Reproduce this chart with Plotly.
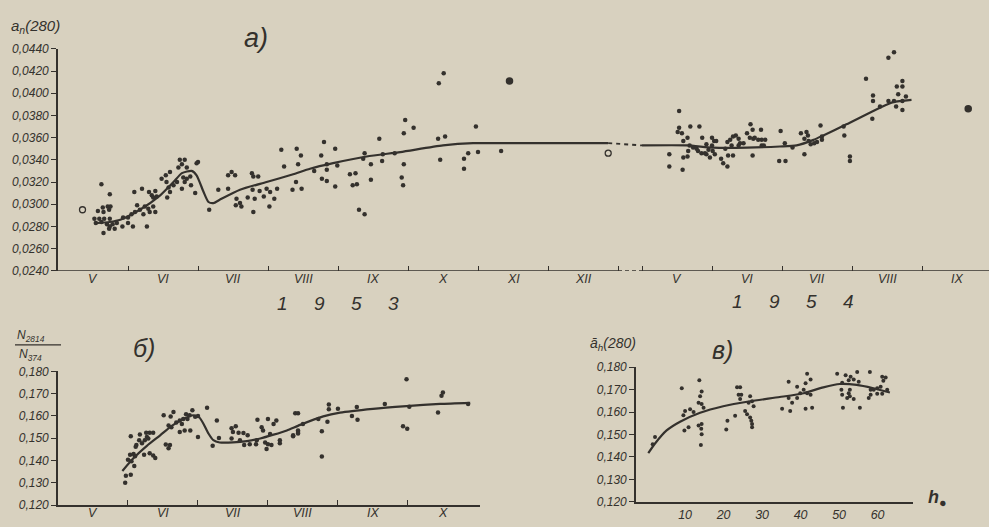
import plotly.graph_objects as go

BG = "#d8d1bf"
INK = "#34312d"
FONT = "Liberation Sans, DejaVu Sans, sans-serif"

# ---------------- Panel a): a_n(280), 1953 and 1954 ----------------
# x = months counted from 1 May of the year (V=0..1, VI=1..2, ...)
MONTHS_1953 = ["V", "VI", "VII", "VIII", "IX", "X", "XI", "XII"]
MONTHS_1954 = ["V", "VI", "VII", "VIII", "IX"]
GAP_START_1954 = 8.343  # axis position where the 1954 part starts (after the break)

a53_x = [0.62, 0.74, 0.64, 0.71, 0.75, 0.57, 0.65, 0.73, 0.52, 0.59, 0.66, 0.74, 0.54, 0.62, 0.70,
         0.74, 0.78, 0.81, 0.73, 0.65, 0.84, 0.92, 0.93, 1.00, 1.07, 1.00, 1.05, 1.10, 1.13, 1.17,
         1.09, 1.20, 1.27, 1.22, 1.24, 1.29, 1.31, 1.36, 1.39, 1.30, 1.34, 1.36, 1.39, 1.41, 1.48,
         1.54, 1.60, 1.55, 1.58, 1.60, 1.56, 1.65, 1.70, 1.74, 1.81, 1.77, 1.72, 1.84, 1.79, 1.84,
         1.89, 1.81, 1.77, 1.90, 1.96, 1.98, 2.00, 2.16, 2.29, 2.43, 2.48, 2.53, 2.43, 2.55, 2.60,
         2.62, 2.54, 2.71, 2.77, 2.79, 2.86, 2.78, 2.81, 2.79, 2.88, 2.94, 2.98, 3.03, 3.02, 3.09,
         3.13, 5.51, 5.44, 4.96, 5.08, 4.94, 4.59, 5.43, 5.53, 5.97, 3.19, 3.41, 3.47, 3.80, 3.96,
         3.76, 3.23, 3.43, 3.66, 3.84, 3.84, 3.99, 4.38, 4.36, 4.47, 4.64, 4.63, 4.81, 4.94, 5.46,
         5.86, 5.80, 5.80, 6.00, 3.35, 3.40, 3.48, 3.77, 3.84, 3.96, 4.17, 4.25, 4.21, 4.27, 4.47,
         4.91, 4.93, 4.30, 4.38, 6.33]
a53_y = [0.0318, 0.0309, 0.0297, 0.0298, 0.0298, 0.0294, 0.0293, 0.0295, 0.0287, 0.0287, 0.0287,
         0.0287, 0.0283, 0.0284, 0.0282, 0.0280, 0.0282, 0.0278, 0.0278, 0.0274, 0.0283, 0.0280,
         0.0288, 0.0283, 0.0280, 0.0288, 0.0291, 0.0293, 0.0299, 0.0295, 0.0311, 0.0314, 0.0280,
         0.0291, 0.0298, 0.0296, 0.0293, 0.0298, 0.0293, 0.0311, 0.0308, 0.0306, 0.0312, 0.0307,
         0.0323, 0.0326, 0.0329, 0.0320, 0.0315, 0.0311, 0.0306, 0.0317, 0.0320, 0.0340, 0.0340,
         0.0336, 0.0333, 0.0333, 0.0324, 0.0323, 0.0325, 0.0320, 0.0314, 0.0317, 0.0310, 0.0337,
         0.0338, 0.0295, 0.0313, 0.0326, 0.0329, 0.0326, 0.0314, 0.0305, 0.0301, 0.0298, 0.0299,
         0.0306, 0.0328, 0.0325, 0.0325, 0.0313, 0.0305, 0.0293, 0.0312, 0.0307, 0.0314, 0.0311,
         0.0298, 0.0305, 0.0314, 0.0418, 0.0409, 0.0376, 0.0369, 0.0364, 0.0359, 0.0359, 0.0361,
         0.0370, 0.0349, 0.0350, 0.0344, 0.0356, 0.0350, 0.0344, 0.0334, 0.0336, 0.0330, 0.0336,
         0.0331, 0.0335, 0.0346, 0.0341, 0.0336, 0.0345, 0.0339, 0.0346, 0.0336, 0.0340, 0.0346,
         0.0341, 0.0332, 0.0347, 0.0313, 0.0320, 0.0314, 0.0323, 0.0321, 0.0316, 0.0327, 0.0328,
         0.0317, 0.0318, 0.0322, 0.0324, 0.0317, 0.0295, 0.0291, 0.0348]
a53_big_x = [6.45]
a53_big_y = [0.0411]
a53_open_x = [0.35, 7.86]
a53_open_y = [0.0295, 0.0346]
a53_curve_x = [0.53, 0.74, 0.89, 1.17, 1.46, 1.65, 1.77, 1.91, 1.98, 2.08, 2.15, 2.22, 2.31, 2.60,
               2.98, 3.36, 3.60, 3.93, 4.41, 4.89, 5.50, 5.93, 6.31, 6.98, 7.86]
a53_curve_y = [0.0283, 0.0284, 0.0286, 0.0295, 0.0308, 0.0320, 0.0328, 0.0330, 0.0326, 0.0311,
               0.0302, 0.0301, 0.0304, 0.0313, 0.0320, 0.0327, 0.0332, 0.0337, 0.0343, 0.0347,
               0.0353, 0.0355, 0.0355, 0.0355, 0.0355]

a54_x = [0.53, 0.53, 0.51, 0.57, 0.69, 0.82, 0.59, 0.65, 0.86, 0.68, 0.73, 0.78, 0.80, 0.85, 0.66,
         0.90, 0.95, 0.92, 1.00, 1.00, 1.03, 1.06, 1.01, 1.04, 0.97, 0.92, 0.39, 0.39, 0.59, 0.65,
         0.58, 1.13, 1.16, 1.22, 1.19, 1.22, 1.26, 1.28, 1.23, 1.30, 1.30, 1.34, 1.38, 1.40, 1.45,
         1.38, 1.50, 1.55, 1.58, 1.54, 1.59, 1.61, 1.70, 1.66, 1.71, 1.76, 1.71, 1.74, 1.58, 1.98,
         2.04, 1.96, 2.05, 2.15, 2.27, 2.32, 2.35, 2.37, 2.38, 2.41, 2.46, 2.50, 2.32, 2.55, 2.57,
         2.57, 2.88, 2.89, 2.97, 2.97, 3.63, 3.60, 3.52, 3.20, 3.72, 3.64, 3.72, 3.30, 3.30, 3.66,
         3.77, 3.52, 3.60, 3.72, 3.40, 3.63, 3.72, 3.29]
a54_y = [0.0384, 0.0369, 0.0365, 0.0364, 0.0370, 0.0370, 0.0357, 0.0360, 0.0360, 0.0353, 0.0351,
         0.0350, 0.0348, 0.0346, 0.0348, 0.0346, 0.0349, 0.0354, 0.0353, 0.0360, 0.0357, 0.0357,
         0.0348, 0.0345, 0.0342, 0.0345, 0.0345, 0.0334, 0.0342, 0.0343, 0.0331, 0.0341, 0.0337,
         0.0334, 0.0350, 0.0356, 0.0358, 0.0353, 0.0344, 0.0344, 0.0361, 0.0362, 0.0359, 0.0355,
         0.0355, 0.0353, 0.0364, 0.0372, 0.0367, 0.0360, 0.0359, 0.0360, 0.0367, 0.0358, 0.0358,
         0.0358, 0.0353, 0.0353, 0.0344, 0.0366, 0.0355, 0.0339, 0.0339, 0.0351, 0.0364, 0.0359,
         0.0365, 0.0362, 0.0357, 0.0354, 0.0355, 0.0356, 0.0345, 0.0371, 0.0361, 0.0358, 0.0370,
         0.0362, 0.0343, 0.0339, 0.0448, 0.0437, 0.0432, 0.0413, 0.0411, 0.0406, 0.0406, 0.0398,
         0.0393, 0.0399, 0.0397, 0.0393, 0.0393, 0.0393, 0.0388, 0.0388, 0.0385, 0.0377]
a54_big_x = [4.66]
a54_big_y = [0.0386]
a54_curve_x = [0.0, 0.64, 1.02, 1.50, 1.97, 2.21, 2.45, 2.59, 2.92, 3.40, 3.59, 3.85]
a54_curve_y = [0.0353, 0.0353, 0.0351, 0.0351, 0.0352, 0.0353, 0.0358, 0.0362, 0.0372, 0.0387,
               0.0392, 0.0394]

# ---------------- Panel b): N2814/N374, 1953 ----------------
MONTHS_B = ["V", "VI", "VII", "VIII", "IX", "X"]
b_x = [0.96, 0.97, 1.04, 1.00, 1.03, 1.08, 1.10, 1.05, 1.09, 1.04, 1.12, 1.17, 1.16, 1.20, 1.24,
       1.27, 1.31, 1.36, 1.26, 1.29, 1.23, 1.31, 1.36, 1.39, 1.11, 1.51, 1.61, 1.65, 1.58, 1.62,
       1.69, 1.54, 1.58, 1.60, 1.74, 1.77, 1.79, 1.83, 1.88, 1.92, 1.96, 2.00, 1.85, 1.74, 1.81,
       1.89, 2.00, 2.13, 2.27, 2.30, 2.21, 2.48, 2.54, 2.50, 2.58, 2.65, 2.71, 2.48, 2.60, 2.66,
       2.74, 2.84, 2.83, 2.91, 2.93, 2.85, 3.00, 3.08, 3.12, 3.03, 2.96, 3.00, 3.05, 2.98, 3.17,
       3.17, 3.36, 3.43, 3.83, 4.93, 5.00, 4.98, 5.48, 5.50, 5.43, 3.39, 3.43, 3.87, 3.87, 4.00,
       4.27, 4.67, 5.02, 4.20, 4.28, 3.85, 3.77, 3.43, 3.43, 3.36, 3.50, 3.72, 3.77, 4.93, 4.99,
       5.86]
b_y = [0.1300, 0.1332, 0.1336, 0.1404, 0.1426, 0.1429, 0.1419, 0.1397, 0.1375, 0.1509, 0.1470,
       0.1517, 0.1491, 0.1477, 0.1491, 0.1506, 0.1525, 0.1525, 0.1525, 0.1499, 0.1426, 0.1433,
       0.1423, 0.1411, 0.1462, 0.1603, 0.1597, 0.1618, 0.1557, 0.1549, 0.1571, 0.1472, 0.1455,
       0.1470, 0.1579, 0.1564, 0.1586, 0.1608, 0.1603, 0.1625, 0.1596, 0.1600, 0.1586, 0.1528,
       0.1535, 0.1535, 0.1506, 0.1637, 0.1579, 0.1501, 0.1466, 0.1545, 0.1554, 0.1528, 0.1525,
       0.1523, 0.1513, 0.1499, 0.1491, 0.1470, 0.1473, 0.1491, 0.1473, 0.1549, 0.1535, 0.1583,
       0.1586, 0.1564, 0.1579, 0.1519, 0.1481, 0.1473, 0.1470, 0.1452, 0.1491, 0.1477, 0.1513,
       0.1528, 0.1801, 0.1814, 0.1814, 0.1765, 0.1691, 0.1705, 0.1615, 0.1612, 0.1612, 0.1651,
       0.1630, 0.1632, 0.1640, 0.1654, 0.1641, 0.1600, 0.1583, 0.1574, 0.1531, 0.1535, 0.1521,
       0.1509, 0.1564, 0.1586, 0.1418, 0.1554, 0.1542, 0.1654]
b_curve_x = [0.92, 1.08, 1.27, 1.46, 1.62, 1.79, 1.93, 2.02, 2.08, 2.15, 2.22, 2.31, 2.50, 2.70,
             2.89, 3.08, 3.27, 3.46, 3.79, 4.03, 4.50, 4.98, 5.46, 5.89]
b_curve_y = [0.1353, 0.1411, 0.1466, 0.1513, 0.1554, 0.1586, 0.1603, 0.1593, 0.1564, 0.1521,
             0.1491, 0.1481, 0.1481, 0.1487, 0.1499, 0.1516, 0.1535, 0.1560, 0.1598, 0.1615,
             0.1632, 0.1644, 0.1654, 0.1659]

# ---------------- Panel c): mean a_h(280) vs solar altitude h ----------------
c_h = [2.19, 1.59, 9.14, 13.7, 14.3, 13.9, 13.5, 14.3, 14.8, 10.0, 11.3, 12.2, 9.56, 10.9, 9.82,
       13.5, 14.3, 14.2, 14.3, 14.1, 23.5, 24.3, 23.9, 24.6, 24.3, 26.9, 26.5, 27.4, 27.8, 25.6,
       26.1, 26.9, 27.2, 27.4, 27.4, 23.0, 21.0, 20.7, 36.9, 41.7, 42.6, 39.1, 41.3, 40.8, 39.9,
       41.7, 42.6, 39.1, 37.8, 36.9, 35.2, 37.3, 41.3, 43.0, 49.5, 51.7, 53.0, 54.7, 58.0, 52.5,
       53.8, 55.1, 50.8, 50.6, 52.8, 52.5, 52.8, 52.1, 53.8, 50.8, 51.0, 55.4, 58.2, 58.2, 57.7,
       59.0, 59.9, 60.8, 61.2, 62.1, 61.5, 62.5, 59.9, 61.2]
c_y = [0.1489, 0.1456, 0.1706, 0.1742, 0.1692, 0.1670, 0.1641, 0.1636, 0.1619, 0.1605, 0.1612,
       0.1600, 0.1586, 0.1532, 0.1518, 0.1540, 0.1547, 0.1525, 0.1501, 0.1453, 0.1710, 0.1710,
       0.1677, 0.1677, 0.1658, 0.1670, 0.1641, 0.1648, 0.1626, 0.1605, 0.1590, 0.1576, 0.1561,
       0.1547, 0.1532, 0.1583, 0.1561, 0.1522, 0.1735, 0.1771, 0.1745, 0.1713, 0.1728, 0.1699,
       0.1684, 0.1684, 0.1677, 0.1663, 0.1641, 0.1663, 0.1615, 0.1605, 0.1615, 0.1619, 0.1771,
       0.1764, 0.1757, 0.1778, 0.1778, 0.1742, 0.1745, 0.1735, 0.1731, 0.1699, 0.1699, 0.1684,
       0.1670, 0.1663, 0.1658, 0.1677, 0.1619, 0.1619, 0.1699, 0.1677, 0.1663, 0.1699, 0.1706,
       0.1713, 0.1757, 0.1754, 0.1739, 0.1699, 0.1682, 0.1682]
c_curve_h = [0.44, 2.2, 5.2, 8.7, 13.9, 19.9, 26.9, 34.6, 40.8, 45.9, 50.2, 54.6, 58.9, 63.2]
c_curve_y = [0.1417, 0.1460, 0.1518, 0.1557, 0.1597, 0.1626, 0.1648, 0.1667, 0.1684, 0.1710,
             0.1725, 0.1721, 0.1706, 0.1687]
C_TICKS = [10, 20, 30, 40, 50, 60]

A_YTICKS = [0.024 + 0.002 * i for i in range(11)]
BC_YTICKS = [0.12 + 0.01 * i for i in range(7)]

# ---------------- figure ----------------
W, H = 989, 527
fig = go.Figure()

dot = dict(color=INK, size=4.5, line=dict(width=0))
big = dict(color=INK, size=7.5, line=dict(width=0))
curve = dict(color=INK, width=2.2, shape="spline", smoothing=0.6)

x54 = [GAP_START_1954 + v for v in a54_x]
fig.add_trace(go.Scatter(x=a53_x, y=a53_y, mode="markers", marker=dot, cliponaxis=False, xaxis="x", yaxis="y"))
fig.add_trace(go.Scatter(x=x54, y=a54_y, mode="markers", marker=dot, cliponaxis=False, xaxis="x", yaxis="y"))
fig.add_trace(go.Scatter(x=a53_big_x + [GAP_START_1954 + v for v in a54_big_x], y=a53_big_y + a54_big_y,
                         mode="markers", marker=big, cliponaxis=False, xaxis="x", yaxis="y"))
fig.add_trace(go.Scatter(x=a53_open_x, y=a53_open_y, mode="markers",
                         marker=dict(symbol="circle-open", color=INK, size=6, line=dict(width=1.3)),
                         cliponaxis=False, xaxis="x", yaxis="y"))
fig.add_trace(go.Scatter(x=a53_curve_x, y=a53_curve_y, mode="lines", line=curve, xaxis="x", yaxis="y"))
fig.add_trace(go.Scatter(x=[GAP_START_1954 + v for v in a54_curve_x], y=a54_curve_y, mode="lines",
                         line=curve, xaxis="x", yaxis="y"))
fig.add_trace(go.Scatter(x=[a53_curve_x[-1], GAP_START_1954 + a54_curve_x[0]],
                         y=[a53_curve_y[-1], a54_curve_y[0]], mode="lines",
                         line=dict(color=INK, width=1.8, dash="4px,4px"), xaxis="x", yaxis="y"))

fig.add_trace(go.Scatter(x=b_x, y=b_y, mode="markers", marker=dot, cliponaxis=False, xaxis="x2", yaxis="y2"))
fig.add_trace(go.Scatter(x=b_curve_x, y=b_curve_y, mode="lines", line=curve, xaxis="x2", yaxis="y2"))

fig.add_trace(go.Scatter(x=c_h, y=c_y, mode="markers", marker=dict(color=INK, size=4, line=dict(width=0)),
                         cliponaxis=False, xaxis="x3", yaxis="y3"))
fig.add_trace(go.Scatter(x=c_curve_h, y=c_curve_y, mode="lines", line=curve, xaxis="x3", yaxis="y3"))

tickfont = dict(family=FONT, size=12, color=INK, style="italic")
monthfont = dict(family=FONT, size=12.5, color=INK, style="italic")

a_centers = [i + 0.5 for i in range(len(MONTHS_1953))] + [GAP_START_1954 + i + 0.5 for i in range(len(MONTHS_1954))]
a_bounds = [i + 1 for i in range(len(MONTHS_1953))] + [GAP_START_1954 + i for i in range(len(MONTHS_1954))]
b_centers = [i + 0.5 for i in range(len(MONTHS_B))]
b_bounds = [i + 1 for i in range(len(MONTHS_B) - 1)]


def px_x(p):
    return p / W


def px_y(p):
    return 1 - p / H


bound_x = dict(showgrid=False, zeroline=False, tickmode="array", ticks="inside", ticklen=5,
               tickwidth=1.4, tickcolor=INK, showticklabels=False)
common_y = dict(showgrid=False, zeroline=False, showline=True, linecolor=INK, linewidth=1.6,
                ticks="outside", ticklen=5, tickwidth=1.3, tickcolor=INK, tickfont=tickfont)

A_DOM = [px_x(58), 1.0]
B_DOM = [px_x(58), px_x(480)]
fig.update_layout(
    width=W, height=H, margin=dict(l=0, r=0, t=0, b=0),
    paper_bgcolor=BG, plot_bgcolor="rgba(0,0,0,0)", showlegend=False, separators=", ",
    xaxis=dict(domain=A_DOM, range=[0, 13.3], anchor="y", showline=False, tickvals=a_bounds, **bound_x),
    yaxis=dict(domain=[px_y(271), px_y(43)], range=[0.024, 0.044], anchor="x",
               tickmode="array", tickvals=A_YTICKS, tickformat=".4f", **common_y),
    xaxis2=dict(domain=B_DOM, range=[0, 6.03], anchor="y2", showline=True,
                linecolor=INK, linewidth=1.8, tickvals=b_bounds, **bound_x),
    yaxis2=dict(domain=[px_y(511.7), px_y(374.3)], range=[0.12, 0.18], anchor="x2",
                tickmode="array", tickvals=BC_YTICKS, tickformat=".3f", **common_y),
    xaxis3=dict(domain=[px_x(636), px_x(913)], range=[-2.75, 69.2], anchor="y3", showline=True,
                linecolor=INK, linewidth=1.6, tickmode="array", tickvals=C_TICKS,
                showgrid=False, zeroline=False, ticks="", tickfont=monthfont),
    yaxis3=dict(domain=[px_y(508.3), px_y(370)], range=[0.12, 0.18], anchor="x3",
                tickmode="array", tickvals=BC_YTICKS, tickformat=".3f", **common_y),
)

# month names centred between the month-boundary ticks
for xc, name in zip(a_centers, MONTHS_1953 + MONTHS_1954):
    fig.add_annotation(text=name, x=xc, y=px_y(279), xref="x", yref="paper", showarrow=False,
                       yanchor="middle", font=monthfont)
for xc, name in zip(b_centers, MONTHS_B):
    fig.add_annotation(text=name, x=xc, y=px_y(520), xref="x2", yref="paper", showarrow=False,
                       yanchor="middle", font=monthfont)

# x-axis line of panel a) with the dashed break between 1953 and 1954
fig.add_shape(type="line", xref="x", yref="y", x0=0, x1=len(MONTHS_1953), y0=0.024, y1=0.024,
              line=dict(color=INK, width=1.8))
fig.add_shape(type="line", xref="x", yref="y", x0=len(MONTHS_1953), x1=GAP_START_1954, y0=0.024, y1=0.024,
              line=dict(color=INK, width=1.8, dash="4px,3px"))
fig.add_shape(type="line", xref="x", yref="y", x0=GAP_START_1954, x1=13.3, y0=0.024, y1=0.024,
              line=dict(color=INK, width=1.8))


def note(text, x, y, size, xanchor="center", yanchor="middle", **kw):
    fig.add_annotation(text=text, x=px_x(x), y=px_y(y), xref="paper", yref="paper",
                       showarrow=False, xanchor=xanchor, yanchor=yanchor,
                       font=dict(family=FONT, size=size, color=INK, style="italic", **kw))


nb = "\u00a0" * 5
note("а)", 256, 32, 27)
note("б)", 144, 350, 25)
note("в)", 722, 352, 25)
note(nb.join("1953"), 338, 305, 19)
note(nb.join("1954"), 792, 303, 19)
note("a<sub>n</sub>(280)", 9, 20, 15, xanchor="left")
note("N<sub>2814</sub>", 15, 338, 12, xanchor="left")
note("N<sub>374</sub>", 17, 358, 12, xanchor="left")
fig.add_shape(type="line", xref="paper", yref="paper", x0=px_x(15), x1=px_x(61), y0=px_y(347), y1=px_y(347),
              line=dict(color=INK, width=1.2))
note("ā<sub>h</sub>(280)", 588, 346, 14, xanchor="left")
note("h<sub>●</sub>", 926, 505, 18, xanchor="left", weight="bold")

fig.write_html("out.html", config={"displayModeBar": False},
               post_script="document.body.style.margin='0';document.body.style.background='%s';" % BG)
